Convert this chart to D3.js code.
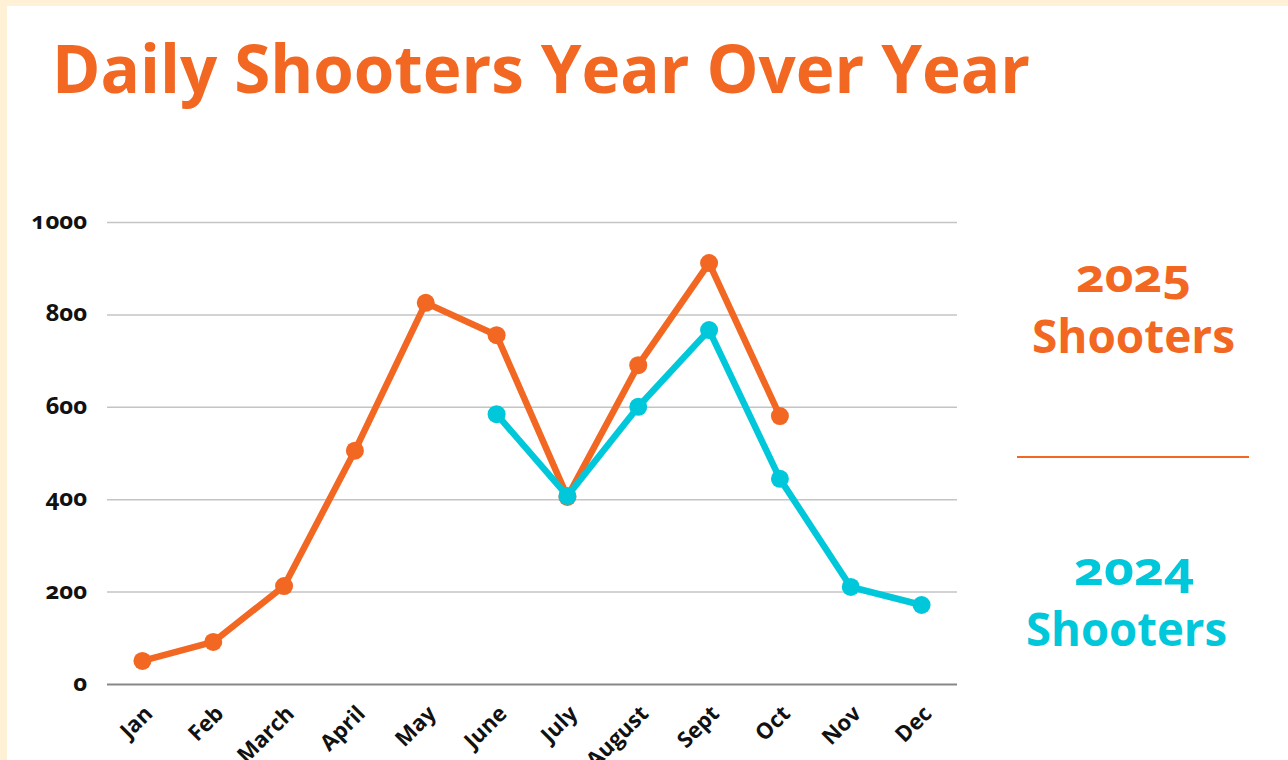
<!DOCTYPE html>
<html><head><meta charset="utf-8">
<script src="https://cdn.jsdelivr.net/npm/d3@7"></script>
<style>
html,body{margin:0;padding:0;background:#fff;}
svg{display:block;}
text{font-family:"Open Sans","DejaVu Sans",sans-serif;font-weight:700;font-variant-numeric:oldstyle-nums;}
</style></head>
<body>
<svg id="chart" width="1288" height="760"></svg>
<script>
const months = ["Jan","Feb","March","April","May","June","July","August","Sept","Oct","Nov","Dec"];
const shooters2025 = [50, 91, 212, 505, 825, 755, 405, 690, 911, 580, null, null];
const shooters2024 = [null, null, null, null, null, 584, 407, 600, 766, 444, 210, 171];
const yTicks = [0, 200, 400, 600, 800, 1000];
const title = "Daily Shooters Year Over Year";
const legendLabels = [["2025","Shooters"],["2024","Shooters"]];

const ORANGE = "#F26722", CYAN = "#00C8DA";
const svg = d3.select("#chart");

// frame
svg.append("rect").attr("x",0).attr("y",0).attr("width",1288).attr("height",760).attr("fill","#FFF1D6");
svg.append("rect").attr("x",7).attr("y",6).attr("width",1281).attr("height",754).attr("fill","#fff");

// title
svg.append("text").text(title).attr("x",52).attr("y",93)
  .attr("fill",ORANGE).attr("font-size",66)
  .attr("textLength",978).attr("lengthAdjust","spacingAndGlyphs");

const x = d3.scalePoint().domain(months).range([107,957]).padding(0.5);
const y = d3.scaleLinear().domain([0,1000]).range([684,222]);

// gridlines + y labels
const yAxis = d3.axisLeft(y).tickValues(yTicks).tickSize(-(957-107)).tickPadding(20).tickFormat(d3.format("d"));
const gy = svg.append("g").attr("transform","translate(107,0)").call(yAxis);
gy.select(".domain").remove();
gy.selectAll(".tick line").attr("stroke","#c4c4c4").attr("stroke-width",1.5);
gy.selectAll(".tick text").attr("font-size",24).attr("fill","#111").attr("font-family",null).attr("dy","0.27em");
gy.selectAll(".tick").filter(d=>d===0).select("line").attr("stroke","#888").attr("stroke-width",2);

// x axis labels
const xAxis = d3.axisBottom(x).tickSize(0).tickPadding(0);
const gx = svg.append("g").attr("transform","translate(0,684)").call(xAxis);
gx.select(".domain").remove();
gx.selectAll(".tick text")
  .attr("font-size",22).attr("fill","#111").attr("font-family",null)
  .attr("text-anchor","end").attr("dy",null).attr("y",0)
  .attr("transform","translate(11,31) rotate(-45)");

// lines
function drawSeries(vals, color){
  const pts = months.map((m,i)=>({m, v: vals[i]})).filter(d=>d.v!=null);
  const line = d3.line().x(d=>x(d.m)).y(d=>y(d.v));
  svg.append("path").datum(pts).attr("d",line).attr("fill","none")
    .attr("stroke",color).attr("stroke-width",6.5).attr("stroke-linejoin","round");
  svg.append("g").selectAll("circle").data(pts).join("circle")
    .attr("cx",d=>x(d.m)).attr("cy",d=>y(d.v)).attr("r",9).attr("fill",color);
}
drawSeries(shooters2025, ORANGE);
drawSeries(shooters2024, CYAN);

// legend
const lg = svg.append("g");
lg.append("text").text(legendLabels[0][0]).attr("x",1133.5).attr("y",292).attr("text-anchor","middle")
  .attr("fill",ORANGE).attr("font-size",46).attr("textLength",115).attr("lengthAdjust","spacingAndGlyphs");
lg.append("text").text(legendLabels[0][1]).attr("x",1133.5).attr("y",353).attr("text-anchor","middle")
  .attr("fill",ORANGE).attr("font-size",46).attr("textLength",203).attr("lengthAdjust","spacingAndGlyphs");
lg.append("line").attr("x1",1017).attr("x2",1249).attr("y1",457).attr("y2",457)
  .attr("stroke",ORANGE).attr("stroke-width",2);
lg.append("text").text(legendLabels[1][0]).attr("x",1134).attr("y",585).attr("text-anchor","middle")
  .attr("fill",CYAN).attr("font-size",46).attr("textLength",120).attr("lengthAdjust","spacingAndGlyphs");
lg.append("text").text(legendLabels[1][1]).attr("x",1126.5).attr("y",646).attr("text-anchor","middle")
  .attr("fill",CYAN).attr("font-size",46).attr("textLength",201).attr("lengthAdjust","spacingAndGlyphs");
</script>
</body></html>
